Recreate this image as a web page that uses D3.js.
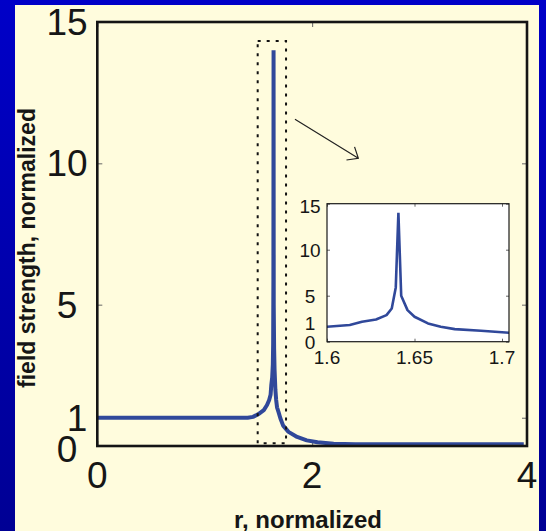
<!DOCTYPE html>
<html>
<head>
<meta charset="utf-8">
<script src="https://cdn.jsdelivr.net/npm/d3@7"></script>
<style>
  html, body { margin: 0; padding: 0; background: #0000b4; }
  svg { display: block; font-family: "Liberation Sans", Arial, sans-serif; }
</style>
</head>
<body>
<div id="chart"></div>
<script>
(function () {
    // --- data ---
    const fieldR = [0, 1.40, 1.45, 1.50, 1.55, 1.58, 1.600, 1.613, 1.620, 1.628, 1.634, 1.637, 1.6393, 1.6408, 1.6424,
                    1.646, 1.650, 1.6577, 1.665, 1.673, 1.688, 1.704, 1.73, 1.78, 1.86, 1.95, 2.05, 2.2, 2.4, 3.0, 3.97];
    const fieldV = [1.0, 1.0, 1.03, 1.13, 1.27, 1.45, 1.63, 1.81, 2.17, 2.42, 2.89, 3.61, 5.9, 14.0, 5.0,
                    3.43, 2.71, 1.99, 1.63, 1.37, 1.19, 0.98, 0.72, 0.5, 0.32, 0.2, 0.13, 0.08, 0.06, 0.06, 0.06];

    const mainXTicks = [0, 2, 4];
    const mainYTicks = [0, 1, 5, 10, 15];
    const insetXTicks = [1.6, 1.65, 1.7];
    const insetYTicks = [0, 1, 5, 10, 15];

    // dotted zoom window (r range, value range) and arrow (from, to)
    const zoomR = [1.493, 1.757], zoomV = [0.1, 14.33];
    const arrowR = [1.84, 2.43], arrowV = [11.56, 10.18];

    const W = 546, H = 531;
    const lineColor = "#30489a";
    const points = fieldR.map((r, i) => ({ r: r, v: fieldV[i] }));

    const svg = d3.select("#chart").append("svg").attr("width", W).attr("height", H);
    const defs = svg.append("defs");

    const grad = defs.append("linearGradient").attr("id", "frame").attr("x1", 0).attr("y1", 0).attr("x2", 0).attr("y2", 1);
    grad.append("stop").attr("offset", "0%").attr("stop-color", "#0000c8");
    grad.append("stop").attr("offset", "100%").attr("stop-color", "#000094");

    svg.append("rect").attr("width", W).attr("height", H).attr("fill", "url(#frame)");
    svg.append("rect").attr("x", 15).attr("y", 5).attr("width", 524).attr("height", H - 5).attr("fill", "#fffcdd");

    // --- main axes ---
    const x = d3.scaleLinear().domain([0, 4]).range([97.3, 527]);
    const y = d3.scaleLinear().domain([0, 15]).range([446, 22]);

    const main = svg.append("g");

    function tickAxis(g, axis) {
        g.call(axis.tickFormat("").tickSizeOuter(0));
        g.select(".domain").remove();
        g.selectAll(".tick line").attr("stroke", "#666").attr("stroke-width", 1);
    }
    main.append("g").attr("transform", `translate(0,${y(0)})`).call(g => tickAxis(g, d3.axisBottom(x).tickValues(mainXTicks).tickSizeInner(-5)));
    main.append("g").attr("transform", `translate(0,${y(15)})`).call(g => tickAxis(g, d3.axisTop(x).tickValues(mainXTicks).tickSizeInner(-5)));
    main.append("g").attr("transform", `translate(${x(0)},0)`).call(g => tickAxis(g, d3.axisLeft(y).tickValues(mainYTicks).tickSizeInner(-5)));
    main.append("g").attr("transform", `translate(${x(4)},0)`).call(g => tickAxis(g, d3.axisRight(y).tickValues(mainYTicks).tickSizeInner(-5)));

    const line = d3.line().x(d => x(d.r)).y(d => y(d.v));
    main.append("path").datum(points)
        .attr("d", line)
        .attr("fill", "none")
        .attr("stroke", lineColor)
        .attr("stroke-width", 4)
        .attr("stroke-linejoin", "bevel");

    main.append("rect")
        .attr("x", x(0)).attr("y", y(15))
        .attr("width", x(4) - x(0)).attr("height", y(0) - y(15))
        .attr("fill", "none").attr("stroke", "#141414").attr("stroke-width", 2.6);

    // dotted window
    main.append("rect")
        .attr("x", x(zoomR[0])).attr("y", y(zoomV[1]))
        .attr("width", x(zoomR[1]) - x(zoomR[0])).attr("height", y(zoomV[0]) - y(zoomV[1]))
        .attr("fill", "none").attr("stroke", "#111").attr("stroke-width", 2)
        .attr("stroke-dasharray", "3,6");

    // arrow
    const ax0 = x(arrowR[0]), ay0 = y(arrowV[0]), ax1 = x(arrowR[1]), ay1 = y(arrowV[1]);
    const ang = Math.atan2(ay0 - ay1, ax0 - ax1), hl = 12, spread = 40 * Math.PI / 180;
    const arrowPath = d3.path();
    arrowPath.moveTo(ax0, ay0); arrowPath.lineTo(ax1, ay1);
    arrowPath.moveTo(ax1 + hl * Math.cos(ang + spread), ay1 + hl * Math.sin(ang + spread));
    arrowPath.lineTo(ax1, ay1);
    arrowPath.lineTo(ax1 + hl * Math.cos(ang - spread), ay1 + hl * Math.sin(ang - spread));
    main.append("path").attr("d", arrowPath.toString()).attr("fill", "none").attr("stroke", "#222").attr("stroke-width", 1.2);

    // tick labels
    main.selectAll("text.xl").data(mainXTicks).join("text")
        .attr("x", d => x(d)).attr("y", 488)
        .attr("text-anchor", "middle").attr("font-size", 37).attr("fill", "#161616")
        .text(d => d);
    main.selectAll("text.yl").data(mainYTicks).join("text")
        .attr("x", d => d === 1 ? 77 : 67)
        .attr("y", d => y(d) + 13 + (d === 0 ? 3 : 0))
        .attr("text-anchor", "middle").attr("font-size", 37).attr("fill", "#161616")
        .text(d => d);

    main.append("text")
        .attr("x", 308).attr("y", 528)
        .attr("text-anchor", "middle").attr("font-size", 24).attr("font-weight", "bold").attr("fill", "#161616")
        .text("r, normalized");
    main.append("text")
        .attr("transform", "translate(35,248) rotate(-90)")
        .attr("text-anchor", "middle").attr("font-size", 23).attr("font-weight", "bold").attr("fill", "#161616")
        .text("field strength, normalized");

    // --- inset ---
    const xi = d3.scaleLinear().domain([1.6, 1.704]).range([327, 509]);
    const yi = d3.scaleLinear().domain([0, 15]).range([341.7, 203.7]);
    const inset = svg.append("g");

    inset.append("rect")
        .attr("x", xi(1.6)).attr("y", yi(15))
        .attr("width", xi(1.704) - xi(1.6)).attr("height", yi(0) - yi(15))
        .attr("fill", "#ffffff");

    defs.append("clipPath").attr("id", "insetClip").append("rect")
        .attr("x", xi(1.6)).attr("y", yi(15))
        .attr("width", xi(1.704) - xi(1.6)).attr("height", yi(0) - yi(15));

    const insetYTickMarks = insetYTicks.filter(d => d !== 1);
    inset.append("g").attr("transform", `translate(0,${yi(0)})`).call(g => tickAxis(g, d3.axisBottom(xi).tickValues(insetXTicks).tickSizeInner(-3)));
    inset.append("g").attr("transform", `translate(0,${yi(15)})`).call(g => tickAxis(g, d3.axisTop(xi).tickValues(insetXTicks).tickSizeInner(-3)));
    inset.append("g").attr("transform", `translate(${xi(1.6)},0)`).call(g => tickAxis(g, d3.axisLeft(yi).tickValues(insetYTickMarks).tickSizeInner(-3)));
    inset.append("g").attr("transform", `translate(${xi(1.704)},0)`).call(g => tickAxis(g, d3.axisRight(yi).tickValues(insetYTickMarks).tickSizeInner(-3)));

    const lineI = d3.line().x(d => xi(d.r)).y(d => yi(d.v));
    inset.append("path").datum(points)
        .attr("clip-path", "url(#insetClip)")
        .attr("d", lineI)
        .attr("fill", "none")
        .attr("stroke", lineColor)
        .attr("stroke-width", 2.6)
        .attr("stroke-linejoin", "bevel");

    inset.append("rect")
        .attr("x", xi(1.6)).attr("y", yi(15))
        .attr("width", xi(1.704) - xi(1.6)).attr("height", yi(0) - yi(15))
        .attr("fill", "none").attr("stroke", "#1a1a1a").attr("stroke-width", 1.2);

    inset.selectAll("text.xl").data(insetXTicks).join("text")
        .attr("x", d => xi(d)).attr("y", 364)
        .attr("text-anchor", "middle").attr("font-size", 19).attr("fill", "#161616")
        .text(d => d);
    inset.selectAll("text.yl").data(insetYTicks).join("text")
        .attr("x", 310)
        .attr("y", d => yi(d) + 7 - (d === 1 ? 9.5 : 0) + (d === 15 ? 2 : 0))
        .attr("text-anchor", "middle").attr("font-size", 19).attr("fill", "#161616")
        .text(d => d);
})();
</script>
</body>
</html>
